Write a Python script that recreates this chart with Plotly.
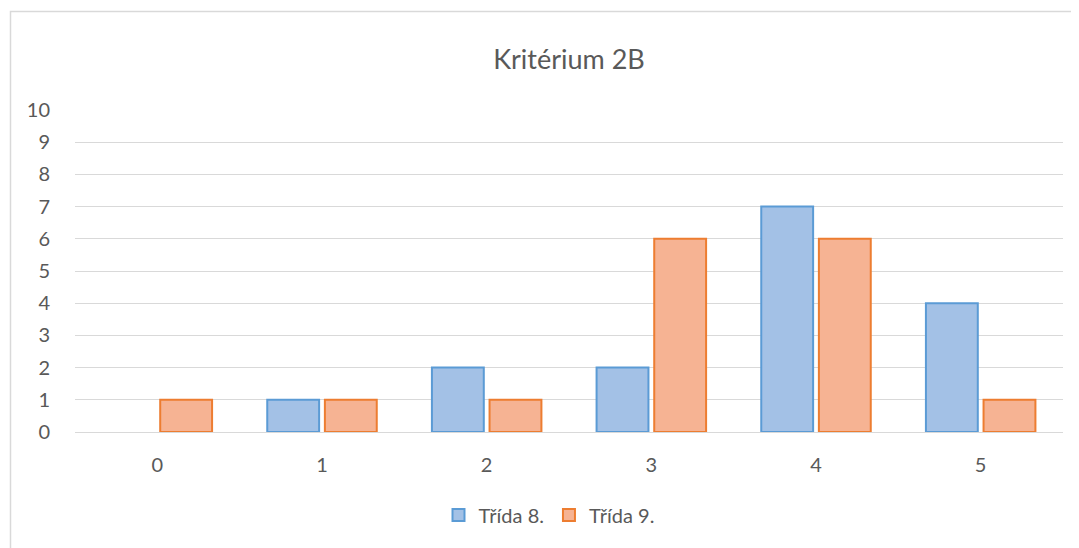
import plotly.graph_objects as go

categories = ["0", "1", "2", "3", "4", "5"]
trida8 = [0, 1, 2, 2, 7, 4]
trida9 = [1, 1, 1, 6, 6, 1]
series_names = ["Třída 8.", "Třída 9."]
title_text = "Kritérium 2B"
y_ticks = list(range(0, 11))

# page body has an 8px margin; compensate so plot lands where the reference is
OFF = 8
W, H = 1079, 548
pw, ph = 988, 322
ml, mt = 75 - OFF, 110 - OFF
mr = W - ml - pw
mb = H - mt - ph

font_family = "Lato, 'Open Sans', sans-serif"
text_color = "#595959"

def drawn(vals):
    # zero-height bars are not drawn in the reference (no outline line)
    return [v if v != 0 else None for v in vals]

fig = go.Figure()
fig.add_trace(go.Bar(
    x=categories, y=drawn(trida8), name=series_names[0],
    marker=dict(color="#A3C1E6", line=dict(color="#5B9BD5", width=2)),
))
fig.add_trace(go.Bar(
    x=categories, y=drawn(trida9), name=series_names[1],
    marker=dict(color="#F6B393", line=dict(color="#ED7D31", width=2)),
))

# chart border (screen px 10.5, 11.5)
bx0 = (10.5 - OFF - ml) / pw
by1 = (mt + ph - (11.5 - OFF)) / ph
fig.add_shape(type="rect", xref="paper", yref="paper",
              x0=bx0, x1=1.2, y0=-1.0, y1=by1,
              line=dict(color="#D9D9D9", width=1.5), fillcolor="rgba(0,0,0,0)",
              layer="below")

fig.update_layout(
    width=W, height=H,
    margin=dict(l=ml, r=mr, t=mt, b=mb),
    paper_bgcolor="white", plot_bgcolor="white",
    barmode="group", bargap=0.3, bargroupgap=0.1,
    font=dict(family=font_family, color=text_color, size=20),
    title=dict(text=title_text, x=0.5, xref="paper", xanchor="center",
               y=(H - (60 - OFF)) / H, yref="container", yanchor="middle",
               font=dict(size=27, color=text_color, family=font_family)),
    legend=dict(orientation="h", x=(549 - 75) / pw, xanchor="center",
                y=(432 - 515) / ph, yanchor="middle",
                font=dict(size=20, color=text_color), itemwidth=30,
                traceorder="normal"),
    showlegend=True,
)
fig.update_xaxes(showgrid=False, showline=False, zeroline=False,
                 ticks="outside", ticklen=15, tickcolor="rgba(0,0,0,0)",
                 tickfont=dict(size=20, color=text_color))
fig.update_yaxes(range=[0, 10], tickvals=y_ticks, showgrid=True,
                 gridcolor="#D9D9D9", gridwidth=1, zeroline=True,
                 zerolinecolor="#D9D9D9", zerolinewidth=1, showline=False,
                 ticks="outside", ticklen=20, tickcolor="rgba(0,0,0,0)",
                 tickfont=dict(size=20, color=text_color))

fig.write_html("out.html")
